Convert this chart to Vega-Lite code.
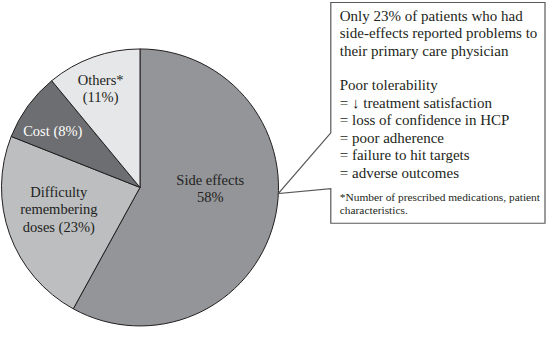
{
  "$schema": "https://vega.github.io/schema/vega-lite/v6.json",
  "width": 548,
  "height": 354,
  "autosize": {"type": "fit", "contains": "padding"},
  "padding": 0,
  "background": "white",
  "config": {"view": {"stroke": null}, "text": {"font": "Liberation Serif"}},
  "datasets": {
    "slices": [
      {"cause": "Side effects", "pct": 58, "ord": 1, "label": "Side effects\n58%", "lx": 210, "ly": 184},
      {"cause": "Difficulty remembering doses", "pct": 23, "ord": 2, "label": "Difficulty\nremembering\ndoses (23%)", "lx": 58, "ly": 196},
      {"cause": "Cost", "pct": 8, "ord": 3, "label": "Cost (8%)", "lx": 52, "ly": 135},
      {"cause": "Others", "pct": 11, "ord": 4, "label": "Others*\n(11%)", "lx": 100, "ly": 83}
    ],
    "outline": [
      {"k": 1, "px": 331, "py": 131.7},
      {"k": 2, "px": 331, "py": 0.5},
      {"k": 3, "px": 546, "py": 0.5},
      {"k": 4, "px": 546, "py": 222.5},
      {"k": 5, "px": 331, "py": 222.5},
      {"k": 6, "px": 331, "py": 187.7},
      {"k": 7, "px": 278.3, "py": 192.7},
      {"k": 8, "px": 331, "py": 131.7}
    ],
    "notes": [
      {"block": "main", "text": "Only 23% of patients who had\nside-effects reported problems to\ntheir primary care physician", "tx": 340, "ty": 19},
      {"block": "main", "text": "Poor tolerability\n= ↓ treatment satisfaction\n= loss of confidence in HCP\n= poor adherence\n= failure to hit targets\n= adverse outcomes", "tx": 340, "ty": 89},
      {"block": "foot", "text": "*Number of prescribed medications, patient\ncharacteristics.", "tx": 340, "ty": 200.5}
    ]
  },
  "layer": [
    {
      "data": {"name": "slices"},
      "mark": {"type": "arc", "radius": 138.5, "stroke": "#231f20", "strokeWidth": 1},
      "encoding": {
        "theta": {"field": "pct", "type": "quantitative", "stack": true},
        "order": {"field": "ord", "type": "quantitative"},
        "color": {
          "field": "cause", "type": "nominal", "legend": null,
          "scale": {"domain": ["Side effects", "Difficulty remembering doses", "Cost", "Others"], "range": ["#939598", "#bcbec0", "#6d6e71", "#e6e7e8"]}
        },
        "x": {"datum": 139.5, "type": "quantitative", "scale": {"domain": [0, 548], "nice": false, "zero": false}, "axis": null},
        "y": {"datum": 186.5, "type": "quantitative", "scale": {"domain": [0, 354], "nice": false, "zero": false, "reverse": true}, "axis": null}
      }
    },
    {
      "data": {"name": "slices"},
      "mark": {"type": "text", "align": "center", "baseline": "alphabetic", "fontSize": 14.5, "lineBreak": "\n", "lineHeight": 17.5},
      "encoding": {
        "x": {"field": "lx", "type": "quantitative"},
        "y": {"field": "ly", "type": "quantitative"},
        "text": {"field": "label"},
        "color": {"condition": {"test": "datum.cause === 'Cost'", "value": "#ffffff"}, "value": "#231f20"}
      }
    },
    {
      "data": {"name": "outline"},
      "mark": {"type": "line", "stroke": "#58595b", "strokeWidth": 1.2, "interpolate": "linear"},
      "encoding": {
        "x": {"field": "px", "type": "quantitative"},
        "y": {"field": "py", "type": "quantitative"},
        "order": {"field": "k", "type": "quantitative"}
      }
    },
    {
      "data": {"name": "notes"},
      "transform": [{"filter": "datum.block === 'main'"}],
      "mark": {"type": "text", "align": "left", "baseline": "alphabetic", "fontSize": 15, "lineBreak": "\n", "lineHeight": 17.5, "color": "#231f20"},
      "encoding": {
        "x": {"field": "tx", "type": "quantitative"},
        "y": {"field": "ty", "type": "quantitative"},
        "text": {"field": "text"}
      }
    },
    {
      "data": {"name": "notes"},
      "transform": [{"filter": "datum.block === 'foot'"}],
      "mark": {"type": "text", "align": "left", "baseline": "alphabetic", "fontSize": 11.4, "lineBreak": "\n", "lineHeight": 13, "color": "#231f20"},
      "encoding": {
        "x": {"field": "tx", "type": "quantitative"},
        "y": {"field": "ty", "type": "quantitative"},
        "text": {"field": "text"}
      }
    }
  ]
}
